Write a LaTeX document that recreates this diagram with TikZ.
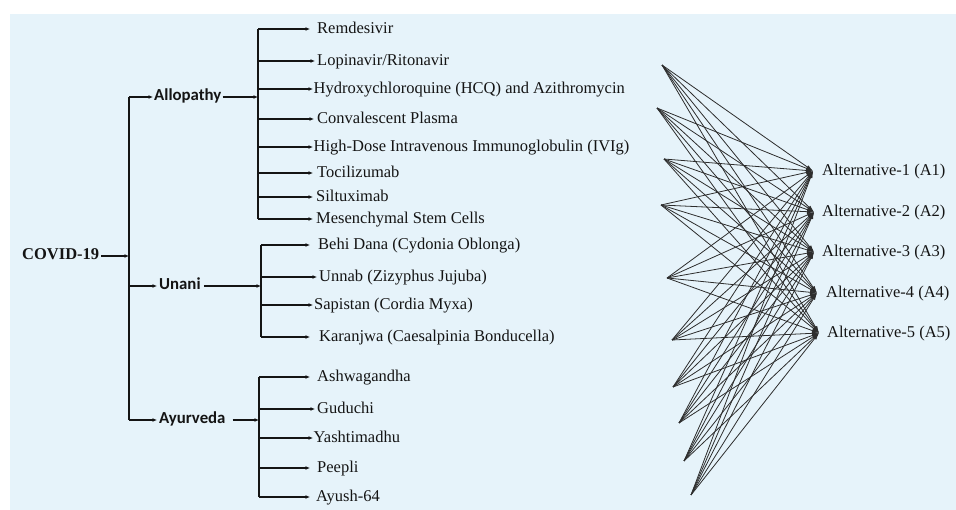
\documentclass[tikz,border=0pt]{standalone}
\usepackage{fontspec}
\setmainfont{Liberation Serif}
\newfontfamily\catfont{Carlito}
\usetikzlibrary{arrows.meta}
\definecolor{bgblue}{RGB}{230,243,250}
\definecolor{ink}{RGB}{20,20,20}
\definecolor{netgray}{RGB}{45,45,45}
\begin{document}
\begin{tikzpicture}[x=1pt,y=-1pt,
  font=\fontsize{16.5}{19}\selectfont,
  arr/.style={draw=ink, line width=1.1pt, -{Latex[length=4.5pt,width=4pt]}},
  br/.style={draw=ink, line width=1.1pt},
  leaf/.style={anchor=west, inner ysep=0pt, text height=0.82em, text depth=0pt, text=ink},
  cat/.style={anchor=west, inner ysep=0pt, inner xsep=1pt, text height=0.66em, text depth=0pt, text=ink, font=\catfont\bfseries\fontsize{16.8}{19}\selectfont},
  root/.style={anchor=west, inner ysep=0pt, inner xsep=1pt, text height=0.66em, text depth=0pt, text=ink, font=\bfseries\fontsize{16.5}{19}\selectfont},
  net/.style={draw=netgray, line width=0.8pt, -{Latex[length=7pt,width=4pt]}}
]
\useasboundingbox (0,0) rectangle (956,510);
\fill[bgblue] (10,14) rectangle (956,510);

% ---------- root and trunk ----------
\node[root] (covid) at (21,256) {COVID-19};
\coordinate (ttop) at (129,97);
\coordinate (tbot) at (129,420);
\draw[br] (ttop) -- (tbot);
\draw[arr] ([xshift=1pt]covid.east) -- (covid.east -| ttop);

% ---------- categories ----------
\node[cat] (allo) at (153,97) {Allopathy};
\node[cat, inner xsep=2pt] (unani) at (157,286) {Unani};
\node[cat, inner xsep=2pt] (ayur) at (157,420) {Ayurveda};
\draw[arr] (ttop) -- (allo.west);
\draw[arr] (ttop |- unani.west) -- (unani.west);
\draw[arr] (tbot) -- (ayur.west);

% ---------- Allopathy branch ----------
\coordinate (allotop) at (258,29);
\coordinate (allobot) at (258,219);
\draw[br] (allotop) -- (allobot);
\draw[arr] (allo.east) -- (allo.east -| allotop);
\node[leaf, inner xsep=7pt] (rem) at (310,29) {Remdesivir};
\node[leaf, inner xsep=2pt] (lop) at (315,61) {Lopinavir/Ritonavir};
\node[leaf, inner xsep=0.5pt] (hcq) at (313,89) {Hydroxychloroquine (HCQ) and Azithromycin};
\node[leaf, inner xsep=3pt] (con) at (314,119) {Convalescent Plasma};
\node[leaf, inner xsep=0.5pt] (ivig) at (313,147) {High-Dose Intravenous Immunoglobulin (IVIg)};
\node[leaf, inner xsep=4pt] (toc) at (313,173) {Tocilizumab};
\node[leaf, inner xsep=3pt] (sil) at (313,197) {Siltuximab};
\node[leaf, inner xsep=3pt] (msc) at (313,219) {Mesenchymal Stem Cells};
\foreach \n in {rem,lop,hcq,con,ivig,toc,sil,msc}
  \draw[arr] (allotop |- \n.west) -- (\n.west);

% ---------- Unani branch ----------
\coordinate (unanitop) at (261,245);
\coordinate (unanibot) at (261,337);
\draw[br] (unanitop) -- (unanibot);
\draw[arr] ([xshift=1pt]unani.east) -- (unani.east -| unanitop);
\node[leaf, inner xsep=8pt] (behi) at (310,245) {Behi Dana (Cydonia Oblonga)};
\node[leaf, inner xsep=2pt] (unnab) at (317,277) {Unnab (Zizyphus Jujuba)};
\node[leaf, inner xsep=1pt] (sap) at (313,305) {Sapistan (Cordia Myxa)};
\node[leaf, inner xsep=9pt] (kar) at (310,337) {Karanjwa (Caesalpinia Bonducella)};
\foreach \n in {behi,unnab,sap,kar}
  \draw[arr] (unanitop |- \n.west) -- (\n.west);

% ---------- Ayurveda branch ----------
\coordinate (ayurtop) at (259,377);
\coordinate (ayurbot) at (259,497);
\draw[br] (ayurtop) -- (ayurbot);
\draw[arr, shorten <=5pt] (ayur.east) -- (ayur.east -| ayurtop);
\node[leaf, inner xsep=7pt] (ash) at (310,377) {Ashwagandha};
\node[leaf, inner xsep=2pt] (gud) at (315,409) {Guduchi};
\node[leaf, inner xsep=0.5pt] (yas) at (313,438) {Yashtimadhu};
\node[leaf, inner xsep=7pt] (pee) at (310,468) {Peepli};
\node[leaf, inner xsep=6pt] (ayu) at (310,497) {Ayush-64};
\foreach \n in {ash,gud,yas,pee,ayu}
  \draw[arr] (ayurtop |- \n.west) -- (\n.west);

% ---------- alternatives network ----------
\coordinate (p1) at (662,65);
\coordinate (p2) at (657,108);
\coordinate (p3) at (664,159);
\coordinate (p4) at (661,205);
\coordinate (p5) at (667,278);
\coordinate (p6) at (672,340);
\coordinate (p7) at (673,387);
\coordinate (p8) at (679,423);
\coordinate (p9) at (684,461);
\coordinate (p10) at (691,495);
\node[leaf, inner xsep=9pt] (a1) at (813,171) {Alternative-1 (A1)};
\node[leaf, inner xsep=8pt] (a2) at (814,212) {Alternative-2 (A2)};
\node[leaf, inner xsep=8pt] (a3) at (814,252) {Alternative-3 (A3)};
\node[leaf, inner xsep=9pt] (a4) at (817,293) {Alternative-4 (A4)};
\node[leaf, inner xsep=8pt] (a5) at (819,333) {Alternative-5 (A5)};
\foreach \i in {1,...,10}
  \foreach \j in {1,...,5}
    \draw[net] (p\i) -- (a\j.west);
\end{tikzpicture}
\end{document}
